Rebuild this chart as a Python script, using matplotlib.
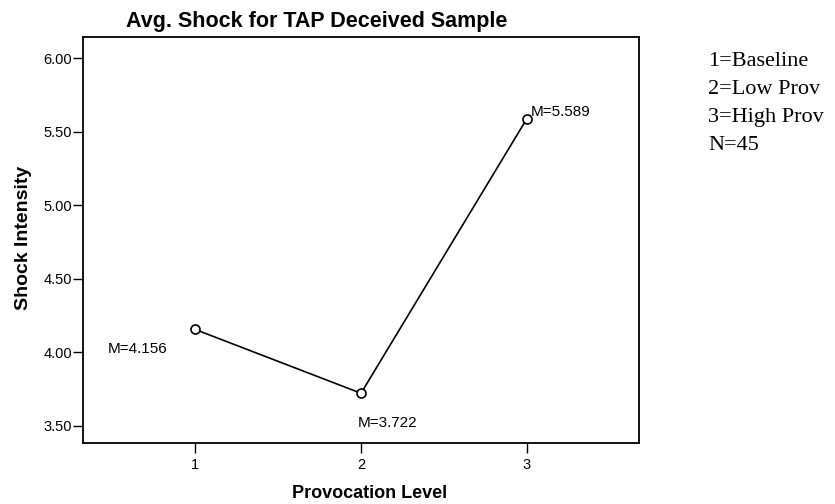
import matplotlib
matplotlib.use("Agg")
import matplotlib.pyplot as plt
from matplotlib.ticker import FormatStrFormatter

# Data
levels = [1, 2, 3]
means = [4.156, 3.722, 5.589]
labels = ["M=4.156", "M=3.722", "M=5.589"]
yticks = [3.50, 4.00, 4.50, 5.00, 5.50, 6.00]
legend_lines = ["1=Baseline", "2=Low Prov", "3=High Prov", "N=45"]

W, H = 835, 504
fig = plt.figure(figsize=(W / 100, H / 100), dpi=100)
ax = fig.add_axes([83 / W, 1 - 443 / H, (639 - 83) / W, (443 - 37) / H])

sans = ["Liberation Sans", "DejaVu Sans"]
serif = ["Liberation Serif", "DejaVu Serif"]

ax.plot(levels, means, color="black", lw=1.2, marker="o", ms=6.5,
        mfc="white", mec="black", mew=1.2, zorder=3)

ax.set_xlim(0.325, 3.675)
ax.set_ylim(3.384, 6.143)
ax.set_xticks(levels)
ax.set_yticks(yticks)
ax.yaxis.set_major_formatter(FormatStrFormatter("%.2f"))
ax.tick_params(axis="both", direction="out", length=7, width=1.0,
               labelsize=10.5, pad=1, colors="black")
for lab in ax.get_xticklabels() + ax.get_yticklabels():
    lab.set_family(sans)
ax.tick_params(axis="x", pad=4)

for s in ax.spines.values():
    s.set_linewidth(1.3)
    s.set_color("black")

# annotations (offsets in pixels from each point)
offsets = [(-57, -20, "center"), (-3, -30, "left"), (4, 7, "left")]
for x, y, t, (dx, dy, ha) in zip(levels, means, labels, offsets):
    ax.annotate(t, (x, y), xytext=(dx, dy), textcoords="offset pixels",
                ha=ha, va="center", fontsize=11, family=sans)

fig.text(317 / W, 1 - 22 / H, "Avg. Shock for TAP Deceived Sample",
         ha="center", va="center", fontsize=15.5, fontweight="bold", family=sans)
fig.text(370 / W, 1 - 493 / H, "Provocation Level", ha="center", va="center",
         fontsize=13, fontweight="bold", family=sans)
fig.text(24 / W, 1 - 238 / H, "Shock Intensity", ha="center", va="center",
         rotation=90, fontsize=14, fontweight="bold", family=sans)

ys = [62, 89, 117, 145]
for yy, t in zip(ys, legend_lines):
    fig.text(708 / W, 1 - yy / H, t, ha="left", va="center",
             fontsize=16, family=serif)

fig.savefig("out.png", dpi=100, facecolor="white")
